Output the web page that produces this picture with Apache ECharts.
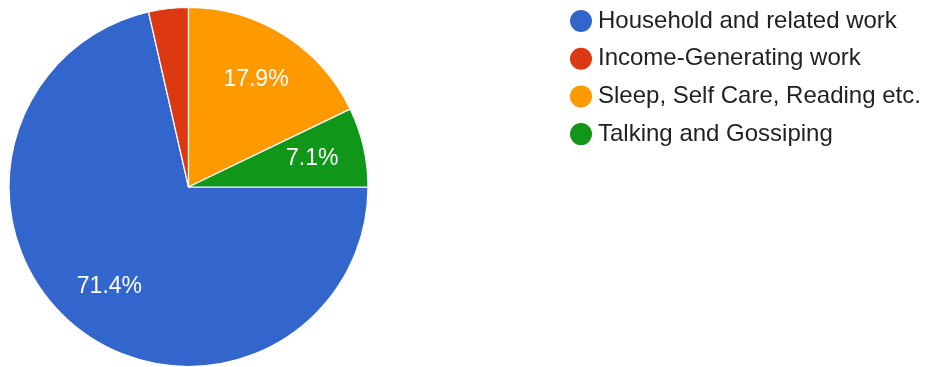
<!DOCTYPE html>
<html>
<head>
<meta charset="utf-8">
<style>
  html, body { margin: 0; padding: 0; background: #ffffff; }
  #chart { width: 927px; height: 367px; }
</style>
<script src="https://cdn.jsdelivr.net/npm/echarts@6/dist/echarts.min.js"></script>
</head>
<body>
<div id="chart"></div>
<script>
// Time-use categories and respondent counts
const categories = [
  'Household and related work',
  'Income-Generating work',
  'Sleep, Self Care, Reading etc.',
  'Talking and Gossiping'
];
const counts = [20, 1, 5, 2];
const colors = ['#3366cc', '#dc3912', '#ff9900', '#109618'];
// Slices smaller than this share get no percentage label
const minLabelShare = 0.05;

const total = counts.reduce((a, b) => a + b, 0);
const fontFamily = 'Arial, "Liberation Sans", sans-serif';
const center = [188.5, 187];
const radius = 179.5;

const chart = echarts.init(document.getElementById('chart'), null, { renderer: 'canvas' });

const sliceData = categories.map((name, i) => ({
  name,
  value: counts[i],
  itemStyle: { color: colors[i] }
}));

// Transparent ring whose midline sits at ~69% of the radius; it only carries the labels
const labelData = categories.map((name, i) => ({
  name,
  value: counts[i],
  itemStyle: { color: 'rgba(0,0,0,0)', borderWidth: 0 },
  label: { show: counts[i] / total >= minLabelShare }
}));

chart.setOption({
  animation: false,
  legend: {
    orient: 'vertical',
    left: 563,
    top: 3,
    icon: 'circle',
    itemWidth: 24,
    itemHeight: 24,
    itemGap: 11.7,
    itemTextGap: 10,
    selectedMode: false,
    textStyle: { fontFamily, fontSize: 24, color: '#222222', lineHeight: 24 },
    data: categories.map((name, i) => ({ name, itemStyle: { color: colors[i] } }))
  },
  series: [
    {
      type: 'pie',
      center,
      radius: [0, radius],
      startAngle: 0,
      clockwise: true,
      silent: true,
      label: { show: false },
      labelLine: { show: false },
      itemStyle: { borderColor: '#ffffff', borderWidth: 1.2 },
      data: sliceData
    },
    {
      type: 'pie',
      center,
      radius: [radius * 0.38, radius],
      startAngle: 0,
      clockwise: true,
      silent: true,
      legendHoverLink: false,
      label: {
        show: true,
        position: 'inside',
        formatter: p => (p.value / total * 100).toFixed(1) + '%',
        fontFamily,
        fontSize: 23,
        color: '#ffffff'
      },
      labelLine: { show: false },
      data: labelData
    }
  ]
});
</script>
</body>
</html>
